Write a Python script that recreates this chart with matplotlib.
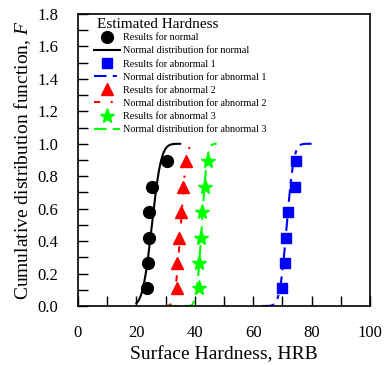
import numpy as np
import matplotlib
matplotlib.use("Agg")
import matplotlib.pyplot as plt
from matplotlib.ticker import MultipleLocator
from math import erf, sqrt

plt.rcParams['font.family'] = ['Liberation Serif', 'DejaVu Serif']
plt.rcParams['mathtext.fontset'] = 'custom'
plt.rcParams['mathtext.it'] = 'Liberation Serif:italic'

F_rank = [0.109, 0.266, 0.422, 0.578, 0.734, 0.891]
hrb_normal = [23.5, 24.1, 24.3, 24.4, 25.4, 30.5]
hrb_ab1 = [70.0, 70.9, 71.2, 71.9, 74.2, 74.8]
hrb_ab2 = [33.9, 34.0, 34.6, 35.3, 35.8, 37.1]
hrb_ab3 = [41.4, 41.5, 42.2, 42.4, 43.4, 44.5]

# normal distribution parameters (mean, sd) and plotted ranges
fit_normal = (25.3, 2.5, 20, 35)
fit_ab1 = (71.5, 1.9, 63, 80)
fit_ab2 = (35.2, 1.5, 30, 39)
fit_ab3 = (42.4, 1.4, 30, 47.5)

def cdf(x, mu, sd):
    return np.array([0.5 * (1 + erf((v - mu) / (sd * sqrt(2)))) for v in x])

fig = plt.figure(figsize=(3.87, 3.65), dpi=100)
ax = fig.add_axes([78/387, 1-306/365, 292/387, 292/365])

def curve(p):
    mu, sd, a, b = p
    x = np.linspace(a, b, 200)
    return x, cdf(x, mu, sd)

ax.plot(hrb_normal, F_rank, 'o', color='black', ms=8.5, label='Results for normal')
x, y = curve(fit_normal)
ax.plot(x, y, '-', color='black', lw=1.5, label='Normal distribution for normal')
ax.plot(hrb_ab1, F_rank, 's', color='#0000ff', ms=7, label='Results for abnormal 1')
x, y = curve(fit_ab1)
ax.plot(x, y, color='#0000ff', lw=1.5, dashes=(6, 3, 2, 3), label='Normal distribution for abnormal 1')
ax.plot(hrb_ab2, F_rank, '^', color='#ff0000', ms=9, label='Results for abnormal 2')
x, y = curve(fit_ab2)
ax.plot(x, y, color='#ff0000', lw=1.5, dashes=(3, 5, 1, 5), label='Normal distribution for abnormal 2')
ax.plot(hrb_ab3, F_rank, '*', color='#00ff00', ms=11, label='Results for abnormal 3')
x, y = curve(fit_ab3)
ax.plot(x, y, color='#00ff00', lw=1.5, dashes=(6, 3), label='Normal distribution for abnormal 3')

ax.set_xlim(0, 100)
ax.set_ylim(0, 1.8)
ax.xaxis.set_major_locator(MultipleLocator(20))
ax.xaxis.set_minor_locator(MultipleLocator(10))
ax.yaxis.set_major_locator(MultipleLocator(0.2))
ax.yaxis.set_minor_locator(MultipleLocator(0.1))
ax.yaxis.set_major_formatter(matplotlib.ticker.FormatStrFormatter('%.1f'))
ax.tick_params(which='both', direction='in', labelsize=12, top=False, right=False)
ax.tick_params(axis='x', which='major', length=7, width=1, pad=14)
ax.tick_params(axis='y', which='major', length=7, width=1, pad=14)
ax.tick_params(which='minor', length=7, width=1)
for s in ax.spines.values():
    s.set_linewidth(1.2)

ax.set_xlabel('Surface Hardness, HRB', fontsize=14, labelpad=3)
ax.set_ylabel('Cumulative distribution function, $F$', fontsize=14, labelpad=3)

leg = ax.legend(loc='upper left', bbox_to_anchor=(0.04, 1.0), frameon=False,
                title='Estimated Hardness', title_fontsize=11, fontsize=7.3,
                handlelength=2.6, handletextpad=0.3, labelspacing=0.4,
                borderpad=0.3, borderaxespad=0.1)
leg._legend_box.align = 'left'
leg._legend_box.sep = 1.5
leg.get_title().set_position((3, 0))

fig.savefig('out.png', dpi=100)
